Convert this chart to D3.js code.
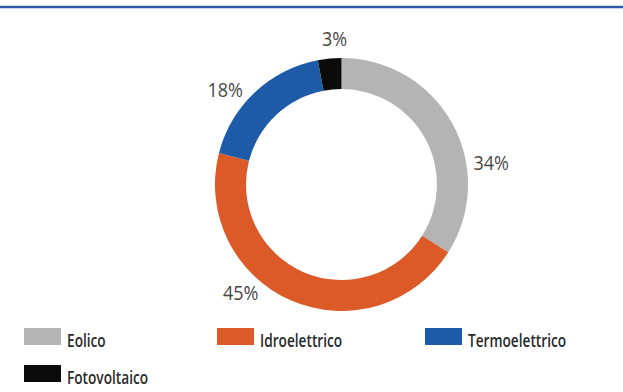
<!DOCTYPE html>
<html><head><meta charset="utf-8">
<script src="https://cdn.jsdelivr.net/npm/d3@7"></script>
<style>
body{margin:0;background:#fff;}
svg{display:block;}
</style></head>
<body>
<svg id="chart" width="623" height="392"></svg>
<script>
const categories = ["Eolico", "Idroelettrico", "Termoelettrico", "Fotovoltaico"];
const values = [34, 45, 18, 3];
const labels = ["34%", "45%", "18%", "3%"];
const colors = ["#b4b4b4", "#dc5a27", "#1d5aa8", "#0b0b0b"];

const svg = d3.select("#chart");
const W = 623, H = 392;
const cx = 341.5, cy = 184.5, rOuter = 126.5, rInner = 95.5;

// top rule
svg.append("line").attr("x1", 0).attr("x2", W).attr("y1", 7).attr("y2", 7)
  .attr("stroke", "#2b5ca3").attr("stroke-width", 2.5);

const color = d3.scaleOrdinal().domain(categories).range(colors);
const pie = d3.pie().sort(null).value(d => d.v);
const data = pie(categories.map((c, i) => ({c, v: values[i], l: labels[i]})));
const arc = d3.arc().innerRadius(rInner).outerRadius(rOuter);

const g = svg.append("g").attr("transform", `translate(${cx},${cy})`);
g.selectAll("path").data(data).join("path")
  .attr("d", arc).attr("fill", d => color(d.data.c));

// percentage labels
const labelArc = d3.arc().innerRadius(148).outerRadius(148);
const labelNudge = {"Eolico": [20, 50], "Idroelettrico": [-42, -27], "Termoelettrico": [-15, 13], "Fotovoltaico": [7, 2]};
g.selectAll("text").data(data).join("text")
  .attr("transform", d => {
    const [x, y] = labelArc.centroid(d);
    const n = labelNudge[d.data.c];
    return `translate(${x + n[0]},${y + n[1] + 7}) scale(0.9,1)`;
  })
  .attr("text-anchor", "middle")
  .attr("font-family", "'Open Sans', sans-serif")
  .attr("font-size", 20).attr("fill", "#474747")
  .text(d => d.data.l);

// legend
const legendPos = [[24, 328], [217, 328], [425, 328], [24, 365]];
const lg = svg.append("g");
categories.forEach((c, i) => {
  const [x, y] = legendPos[i];
  lg.append("rect").attr("x", x).attr("y", y).attr("width", 37).attr("height", 17).attr("fill", color(c));
  lg.append("text").attr("transform", `translate(${x + 43},${y + 19}) scale(0.76,1)`)
    .attr("font-family", "'Open Sans', sans-serif")
    .attr("font-size", 18).attr("font-weight", 600).attr("fill", "#2a2a2a")
    .text(c);
});
</script>
</body></html>
